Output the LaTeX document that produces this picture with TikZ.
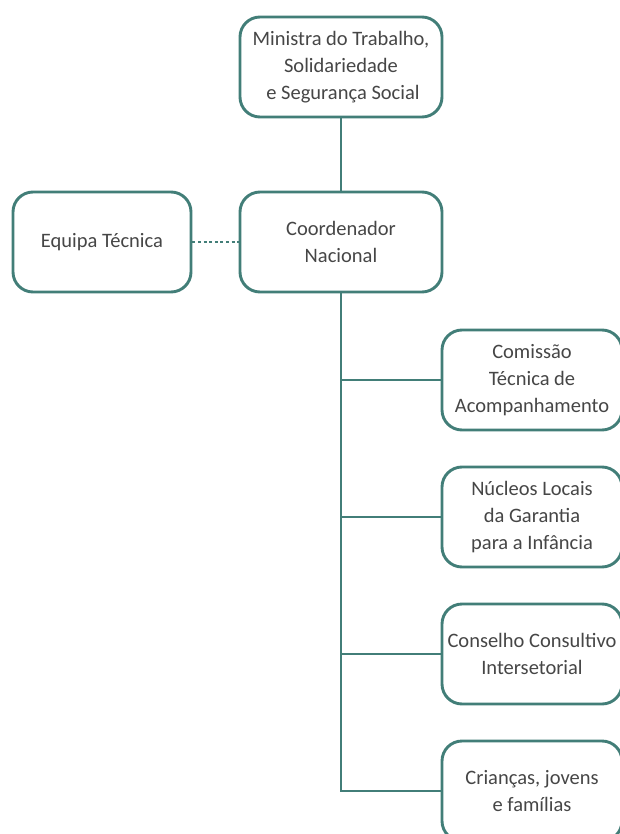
\documentclass[tikz,border=0pt]{standalone}
\usepackage{fontspec}
\setmainfont{Carlito}
\usetikzlibrary{positioning}
\definecolor{boxline}{RGB}{66,126,120}
\definecolor{boxtext}{RGB}{70,70,70}
\begin{document}
\begin{tikzpicture}[x=1pt,y=1pt,line width=2.9pt,
      main node/.style={rectangle,rounded corners=20pt,draw=boxline,fill=white,
        text=boxtext,align=center,inner sep=0pt,minimum height=100pt,
        font=\fontsize{20.5}{27}\selectfont},
      wide node/.style={main node,minimum width=202pt},
      side node/.style={main node,minimum width=180pt},
      link/.style={draw=boxline},
      elbow/.style={to path={|- (\tikztotarget)}}]
    \useasboundingbox (0,0) rectangle (620,-834);
    \clip (0,0) rectangle (620,-834);
    \node[wide node] (min) at (341,-67) {Ministra do Trabalho,\\Solidariedade\\\hspace*{4pt}e Segurança Social};
    \node[wide node] (coord) [below of=min,node distance=175pt] {Coordenador\\Nacional};
    \node[main node,minimum width=178pt] (equipa) [left of=coord,node distance=239pt] {Equipa Técnica};
    \node[side node] (comissao) [below of=coord,node distance=138pt,xshift=191pt] {Comissão\\Técnica de\\Acompanhamento};
    \node[side node] (nucleos) [below of=comissao,node distance=137pt] {Núcleos Locais\\da Garantia\\para a Infância};
    \node[side node] (conselho) [below of=nucleos,node distance=137pt] {Conselho Consultivo\\Intersetorial};
    \node[side node] (criancas) [below of=conselho,node distance=137pt] {Crianças, jovens\\e famílias};
    \path[link]
    (min) edge (coord)
    (equipa) edge [dash pattern=on 3pt off 2.6pt] (coord)
    (coord) edge [elbow] (comissao.west)
    (coord) edge [elbow] (nucleos.west)
    (coord) edge [elbow] (conselho.west)
    (coord) edge [elbow] (criancas.west)
    ;
  \end{tikzpicture}
\end{document}
